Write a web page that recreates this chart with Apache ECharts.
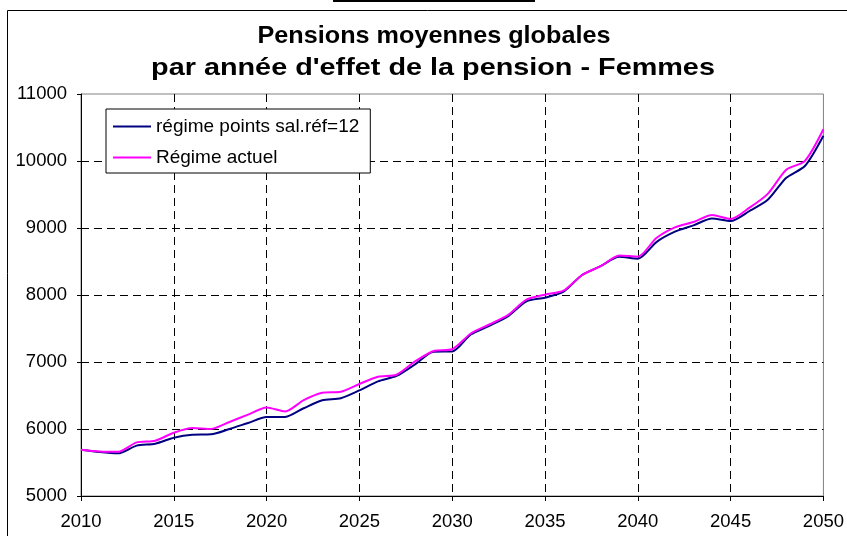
<!DOCTYPE html>
<html>
<head>
<meta charset="utf-8">
<script src="https://cdn.jsdelivr.net/npm/echarts@6/dist/echarts.min.js"></script>
<style>
html, body { margin: 0; padding: 0; background: #fff; }
#chart { width: 847px; height: 536px; }
</style>
</head>
<body>
<div id="chart"></div>
<script>
// années d'effet de la pension
var years = [2010, 2011, 2012, 2013, 2014, 2015, 2016, 2017, 2018, 2019,
             2020, 2021, 2022, 2023, 2024, 2025, 2026, 2027, 2028, 2029,
             2030, 2031, 2032, 2033, 2034, 2035, 2036, 2037, 2038, 2039,
             2040, 2041, 2042, 2043, 2044, 2045, 2046, 2047, 2048, 2049, 2050];

// régime points sal.réf=12
var regimePoints = [5690, 5655, 5637, 5752, 5780, 5870, 5915, 5920, 6000, 6090,
                    6178, 6180, 6310, 6430, 6460, 6577, 6710, 6792, 6965, 7154,
                    7158, 7410, 7540, 7680, 7905, 7960, 8050, 8299, 8430, 8570,
                    8542, 8790, 8945, 9040, 9140, 9104, 9250, 9420, 9750, 9925, 10378];

// Régime actuel
var regimeActuel = [5690, 5665, 5660, 5800, 5826, 5945, 6015, 6000, 6105, 6215,
                    6320, 6262, 6430, 6540, 6555, 6672, 6780, 6810, 7010, 7165,
                    7190, 7425, 7560, 7700, 7930, 8005, 8064, 8299, 8430, 8590,
                    8572, 8850, 9010, 9090, 9195, 9134, 9300, 9510, 9870, 10000, 10473];

var seriesNames = ['régime points sal.réf=12', 'Régime actuel'];
var titleLines = ['Pensions moyennes globales', "par année d'effet de la pension - Femmes"];

function pairs(vals) {
    return years.map(function (y, i) { return [y, vals[i]]; });
}

var dom = document.getElementById('chart');
var myChart = echarts.init(dom, null, { renderer: 'canvas' });

var font = 'Arial, "Liberation Sans", sans-serif';
var plain = function (v) { return String(v); }; // pas de séparateur de milliers

var option = {
    animation: false,
    backgroundColor: '#fff',
    graphic: [
        { // cadre extérieur
            type: 'rect', left: 7, top: 10, z: -10, silent: true,
            shape: { width: 900, height: 600 },
            style: { fill: '#fff', stroke: '#000', lineWidth: 1 }
        },
        { // bout du cadre du dessus
            type: 'rect', left: 333, top: 0, silent: true,
            shape: { width: 202, height: 2 },
            style: { fill: '#000' }
        },
        {
            type: 'text', x: 434, y: 36, scaleX: 1.05, silent: true,
            style: { text: titleLines[0], fill: '#000', font: 'bold 24px ' + font, align: 'center', verticalAlign: 'middle' }
        },
        {
            type: 'text', x: 433, y: 68, scaleX: 1.2, silent: true,
            style: { text: titleLines[1], fill: '#000', font: 'bold 24px ' + font, align: 'center', verticalAlign: 'middle' }
        }
    ],
    legend: {
        left: 106,
        top: 109,
        orient: 'vertical',
        data: seriesNames,
        icon: 'rect',
        itemWidth: 38,
        itemHeight: 2,
        itemGap: 12,
        padding: [8, 11, 6, 7],
        borderColor: '#000',
        borderWidth: 1,
        borderRadius: 0,
        backgroundColor: '#fff',
        textStyle: { color: '#000', fontSize: 19, fontFamily: font }
    },
    grid: {
        left: 81, right: 22, top: 94, bottom: 40,
        show: true,
        borderColor: '#808080',
        borderWidth: 1,
        backgroundColor: 'transparent'
    },
    xAxis: {
        type: 'value',
        min: 2010,
        max: 2050,
        interval: 5,
        axisLine: { show: true, onZero: false, lineStyle: { color: '#000', width: 1 } },
        axisTick: { show: true, length: 5, lineStyle: { color: '#000' } },
        axisLabel: { color: '#000', fontSize: 18.5, fontFamily: font, margin: 16, formatter: plain },
        splitLine: {
            show: true, showMinLine: false, showMaxLine: false,
            lineStyle: { color: '#000', type: [8, 5], width: 1 }
        }
    },
    yAxis: {
        type: 'value',
        min: 5000,
        max: 11000,
        interval: 1000,
        axisLine: { show: true, lineStyle: { color: '#000', width: 1 } },
        axisTick: { show: true, length: 4, lineStyle: { color: '#000' } },
        axisLabel: { color: '#000', fontSize: 18.5, fontFamily: font, margin: 14, formatter: plain },
        splitLine: {
            show: true, showMinLine: false, showMaxLine: false,
            lineStyle: { color: '#000', type: [8, 5], width: 1 }
        }
    },
    series: [
        {
            name: seriesNames[0],
            type: 'line',
            data: pairs(regimePoints),
            showSymbol: false,
            smooth: 0.25,
            itemStyle: { color: '#000080' },
            lineStyle: { color: '#000080', width: 2 }
        },
        {
            name: seriesNames[1],
            type: 'line',
            data: pairs(regimeActuel),
            showSymbol: false,
            smooth: 0.25,
            itemStyle: { color: '#FF00FF' },
            lineStyle: { color: '#FF00FF', width: 2 }
        }
    ]
};

if (option && typeof option === 'object') {
    myChart.setOption(option);
}
</script>
</body>
</html>
